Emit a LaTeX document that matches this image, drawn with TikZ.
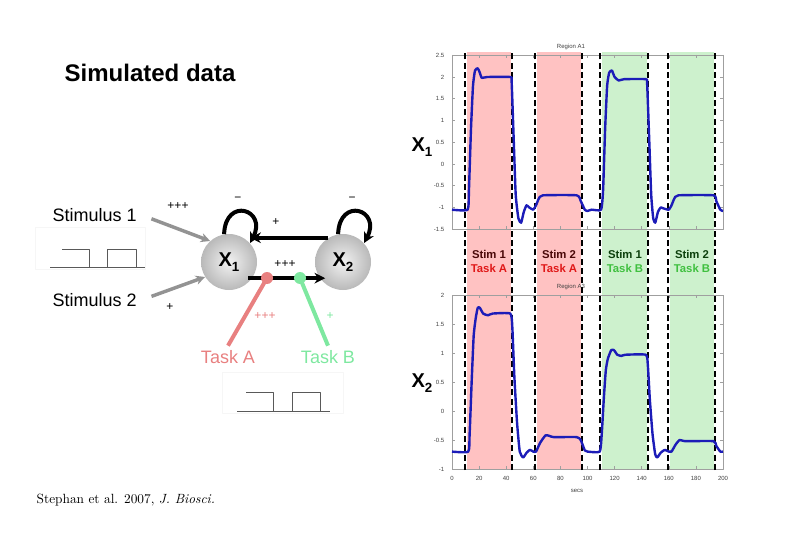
\documentclass[tikz,border=0pt]{standalone}
\usepackage{fontspec}
\newfontfamily\gfont{Liberation Sans}
\usetikzlibrary{arrows.meta}
\definecolor{taskred}{HTML}{E88080}
\definecolor{taskgreen}{HTML}{7EE8A0}
\definecolor{shadered}{HTML}{FFC2C2}
\definecolor{shadegreen}{HTML}{CDF1CD}
\definecolor{curveblue}{HTML}{1C1CB8}
\definecolor{stimred}{HTML}{4A0808}
\definecolor{stimgreen}{HTML}{0C400C}
\definecolor{labred}{HTML}{E01818}
\definecolor{labgreen}{HTML}{40C040}
\newcommand{\xlab}[1]{\bfseries X\raisebox{-0.45ex}{\fontsize{10}{10}\selectfont #1}}
\begin{document}
\begin{tikzpicture}[x=0.75pt, y=0.75pt, >={Stealth[length=8pt,width=8pt]}, line join=round,
	lbl/.style={font=\gfont\fontsize{13.5}{14}\selectfont},
	sign/.style={font=\gfont\fontsize{9}{9}\selectfont},
	unit/.style={circle, minimum size=42pt, inner sep=0pt, inner color=gray!10, outer color=gray!55, font=\gfont\fontsize{15}{15}\selectfont},
	conn/.style={line width=3pt},
	stim/.style={line width=2.6pt, gray!85, -{Stealth[length=7pt,width=7pt]}},
	wave/.style={gray!70!black, line width=0.7pt},
	frame/.style={gray!75, line width=0.4pt},
	tick/.style={font=\gfont\fontsize{4.5}{5}\selectfont, text=black!75},
	dashline/.style={line width=2.2pt, dash pattern=on 4.5pt off 2.5pt},
	curve/.style={curveblue, line width=1.8pt, line join=round}]
	\useasboundingbox (0,0) rectangle (810,540);
	\node[anchor=west, font=\gfont\bfseries\fontsize{18}{18}\selectfont] (title) at (60,467) {Simulated data};
	% input waveforms
	\draw[gray!7] (35,271) rectangle (145,313);
	\draw[wave] (50,273) -- (145,273) (62,291) -- (89,291) -- (89,273) (107,273) -- (107,291) -- (136,291) -- (136,273);
	\draw[gray!7] (222,127) rectangle (343,168);
	\draw[wave] (237,129) -- (330,129) (246,148) -- (273,148) -- (273,129) (292,129) -- (292,148) -- (320,148) -- (320,129);
	% network
	\node[lbl, anchor=west] (s1) at (48,325) {Stimulus 1};
	\node[lbl, anchor=west] (s2) at (48,240) {Stimulus 2};
	\node[unit] (x1) at (229,278) {\xlab{1}};
	\node[unit] (x2) at (343,278) {\xlab{2}};
	\node[lbl, text=taskred] (ta) at (228,183) {Task A};
	\node[lbl, text=taskgreen] (tb) at (328,183) {Task B};
	\coordinate (ma) at (267,262);
	\coordinate (mb) at (300,262);
	\draw[stim, shorten <=8pt] (s1.east) -- (x1.132);
	\draw[stim, shorten <=8pt] (s2.east) -- (x1.212);
	\draw[conn, ->] (x1.100) .. controls +(88:38) and +(62:38) .. (x1.42);
	\draw[conn, ->] (x2.100) .. controls +(88:38) and +(62:38) .. (x2.42);
	\draw[conn, ->, shorten >=5pt] (x2.121) -- (x1.59);
	\draw[conn, ->, shorten <=-3pt, shorten >=-4pt] (x1.-35) -- (x2.215);
	\draw[taskred, line width=3pt] (ta.north) -- (ma);
	\draw[taskgreen, line width=3pt] (tb.north) -- (mb);
	\fill[taskred] (ma) circle (6);
	\fill[taskgreen] (mb) circle (6);
	\node[sign] (w1) at (178,334) {+++};
	\node[sign] (w2) at (170,233) {+};
	\node[sign] (w3) at (238,341) {−};
	\node[sign] (w4) at (352,341) {−};
	\node[sign] (w5) at (276,318) {+};
	\node[sign] (w6) at (285,276) {+++};
	\node[sign, text=taskred] (w7) at (265,224) {+++};
	\node[sign, text=taskgreen] (w8) at (330,224) {+};
	% simulated traces
	\foreach \a/\b/\c in {467/511/shadered, 537/581/shadered, 602/647/shadegreen, 670/714/shadegreen}
	\fill[\c] (\a,70) rectangle (\b,488);
	\draw[frame] (452,311) rectangle (723,485);
	\draw[frame] (452,71) rectangle (723,245);
	\node[tick] (r1) at (571,493) {Region A1};
	\node[tick] (r3) at (571,253) {Region A3};
	\node[tick] (sec) at (577,49) {secs};
	\foreach \t in {0,20,...,200}
	{
		\draw[frame] (452+1.355*\t,311) -- ++(0,3) (452+1.355*\t,485) -- ++(0,-3);
		\draw[frame] (452+1.355*\t,71) -- ++(0,3) (452+1.355*\t,245) -- ++(0,-3);
		\node[tick] at (452+1.355*\t,62) {\t};
	}
	\foreach \v in {-1.5,-1,-0.5,0,0.5,1,1.5,2,2.5}
	{
		\draw[frame] (452,376+43.5*\v) -- ++(3,0) (723,376+43.5*\v) -- ++(-3,0);
		\node[tick, anchor=east] at (449,376+43.5*\v) {\v};
	}
	\foreach \v in {-1,-0.5,0,0.5,1,1.5,2}
	{
		\draw[frame] (452,129+58*\v) -- ++(3,0) (723,129+58*\v) -- ++(-3,0);
		\node[tick, anchor=east] at (449,129+58*\v) {\v};
	}
	\foreach \x in {465,512,535,582,600,648,668,715}
	\draw[dashline] (\x,70) -- (\x,488);
	\foreach \x/\s/\k/\c in {489/1/A/red, 559/2/A/red, 625/1/B/green, 692/2/B/green}
	{
		\node[font=\gfont\bfseries\fontsize{8.5}{9}\selectfont, text=stim\c] at (\x,286) {Stim \s};
		\node[font=\gfont\bfseries\fontsize{8.5}{9}\selectfont, text=lab\c] at (\x,272) {Task \k};
	}
	\begin{scope}[xshift=339pt, yshift=282pt, x=1.01625pt, y=32.625pt]
		\draw[curve] plot[smooth, tension=0.3] coordinates {(0,-1.05) (11.5,-1.05) (12.5,-0.6) (14,0.8) (15.5,1.8) (17,2.15) (19,2.2) (20.5,2.1) (22,1.98) (26,2.0) (43,2.0) (44,1.9) (45.5,0.6) (47,-0.7) (49,-1.25) (51,-1.35) (53,-1.1) (55,-0.95) (57,-1.0) (60,-1.05) (62,-0.95) (64,-0.8) (67,-0.72) (92,-0.72) (95,-0.85) (98,-1.05) (100,-1.08) (103,-1.05) (110,-1.05) (111.5,-0.6) (113,0.8) (114.5,1.8) (116,2.1) (118,2.15) (120,2.0) (123,1.92) (127,1.95) (143,1.95) (144,1.85) (145.5,0.6) (147,-0.7) (148.5,-1.25) (150,-1.35) (152,-1.1) (154,-1.0) (156,-1.02) (160,-1.05) (162,-0.95) (164,-0.8) (167,-0.72) (193,-0.72) (195,-0.85) (198,-1.05) (200,-1.08)};
	\end{scope}
	\begin{scope}[xshift=339pt, yshift=96.75pt, x=1.01625pt, y=43.5pt]
		\draw[curve] plot[smooth, tension=0.3] coordinates {(0,-0.7) (12,-0.7) (13,-0.4) (14.5,0.5) (16,1.3) (17.5,1.6) (19,1.78) (20.5,1.78) (23,1.68) (26.5,1.65) (30,1.68) (43,1.68) (44.5,1.45) (46,0.6) (48,-0.2) (50,-0.7) (52.5,-0.8) (55,-0.72) (57.5,-0.67) (60,-0.7) (62,-0.7) (65,-0.55) (69,-0.42) (72,-0.43) (75,-0.45) (92,-0.45) (95,-0.5) (98,-0.68) (100,-0.7) (109,-0.7) (110.5,-0.4) (112,0.2) (113.5,0.7) (115,0.9) (117.5,1.05) (119.5,1.05) (122,0.97) (125,0.95) (128,0.97) (143,0.97) (144.5,0.8) (146,0.2) (148,-0.4) (150,-0.75) (151.5,-0.8) (154,-0.72) (157,-0.67) (160,-0.7) (162,-0.7) (165,-0.58) (168,-0.5) (172,-0.52) (193,-0.52) (195,-0.6) (198,-0.7) (200,-0.7)};
	\end{scope}
	\node[font=\gfont\fontsize{15}{15}\selectfont] (xa) at (422,393) {\xlab{1}};
	\node[font=\gfont\fontsize{15}{15}\selectfont] (xb) at (422,157) {\xlab{2}};
	\node[anchor=west, font=\fontsize{10}{12}\selectfont] (cite) at (32,40) {Stephan et al. 2007, \textit{J. Biosci.}};
\end{tikzpicture}
\end{document}
